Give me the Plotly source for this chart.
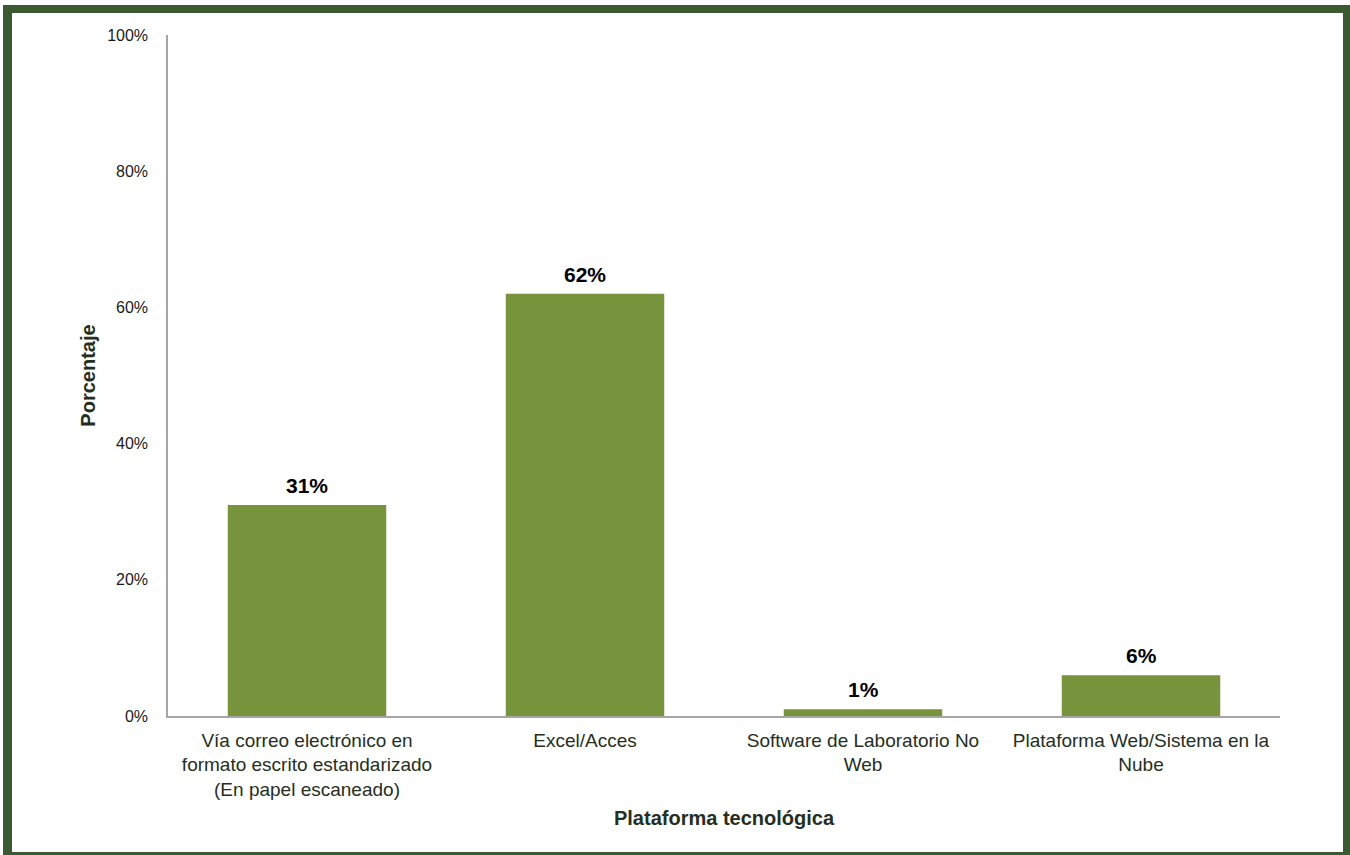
import plotly.graph_objects as go

# Data
categories = [
    "Vía correo electrónico en<br>formato escrito estandarizado<br>(En papel escaneado)",
    "Excel/Acces",
    "Software de Laboratorio No<br>Web",
    "Plataforma Web/Sistema en la<br>Nube",
]
values = [31, 62, 1, 6]
y_ticks = [0, 20, 40, 60, 80, 100]
y_tick_text = ["0%", "20%", "40%", "60%", "80%", "100%"]

W, H = 1350, 855
L, R, T, B = 168, 70, 35, 139
PW, PH = W - L - R, H - T - B

BAR = "#77933C"
FRAME = "#3B5A31"
TXT = "#262E1E"
FONT = "Liberation Sans, Arial, sans-serif"


def px(x):
    return (x - L) / PW


def py(y):
    return (H - B - y) / PH


fig = go.Figure(
    go.Bar(
        x=categories,
        y=values,
        marker=dict(color=BAR, line=dict(width=0)),
        hoverinfo="x+y",
    )
)

# Value labels above each bar
for cat, v in zip(categories, values):
    fig.add_annotation(
        x=cat, y=v, xref="x", yref="y",
        text=f"<b>{v}%</b>", showarrow=False,
        yanchor="bottom", yshift=6,
        font=dict(family=FONT, size=21, color="#000000"),
    )

# Outer frame drawn as four filled strips
frame = [
    (3, 5, 1350, 13),
    (3, 5, 12, 855),
    (1343, 5, 1350, 855),
    (3, 852, 1350, 855),
]
for x0, y0, x1, y1 in frame:
    fig.add_shape(
        type="rect", xref="paper", yref="paper",
        x0=px(x0), x1=px(x1), y0=py(y1), y1=py(y0),
        fillcolor=FRAME, line=dict(width=0), layer="above",
    )

fig.update_layout(
    width=W, height=H,
    margin=dict(l=L, r=R, t=T, b=B),
    paper_bgcolor="white", plot_bgcolor="white",
    showlegend=False,
    bargap=0.43,
    font=dict(family=FONT, color=TXT),
)
fig.update_xaxes(
    showline=True, linecolor="#A6A6A6", linewidth=1.5,
    showgrid=False, ticks="",
    tickfont=dict(size=19, color=TXT),
    ticklabelstandoff=6,
    title=dict(text="<b>Plataforma tecnológica</b>", font=dict(size=20, color=TXT), standoff=12),
)
fig.update_yaxes(
    range=[0, 100],
    tickvals=y_ticks, ticktext=y_tick_text,
    showline=True, linecolor="#A6A6A6", linewidth=1.5,
    showgrid=False, ticks="", zeroline=False,
    tickfont=dict(size=16, color="#1a1a1a"),
    ticklabelstandoff=15,
    title=dict(text="<b>Porcentaje</b>", font=dict(size=20, color=TXT), standoff=6),
)

fig.write_html("out.html")
